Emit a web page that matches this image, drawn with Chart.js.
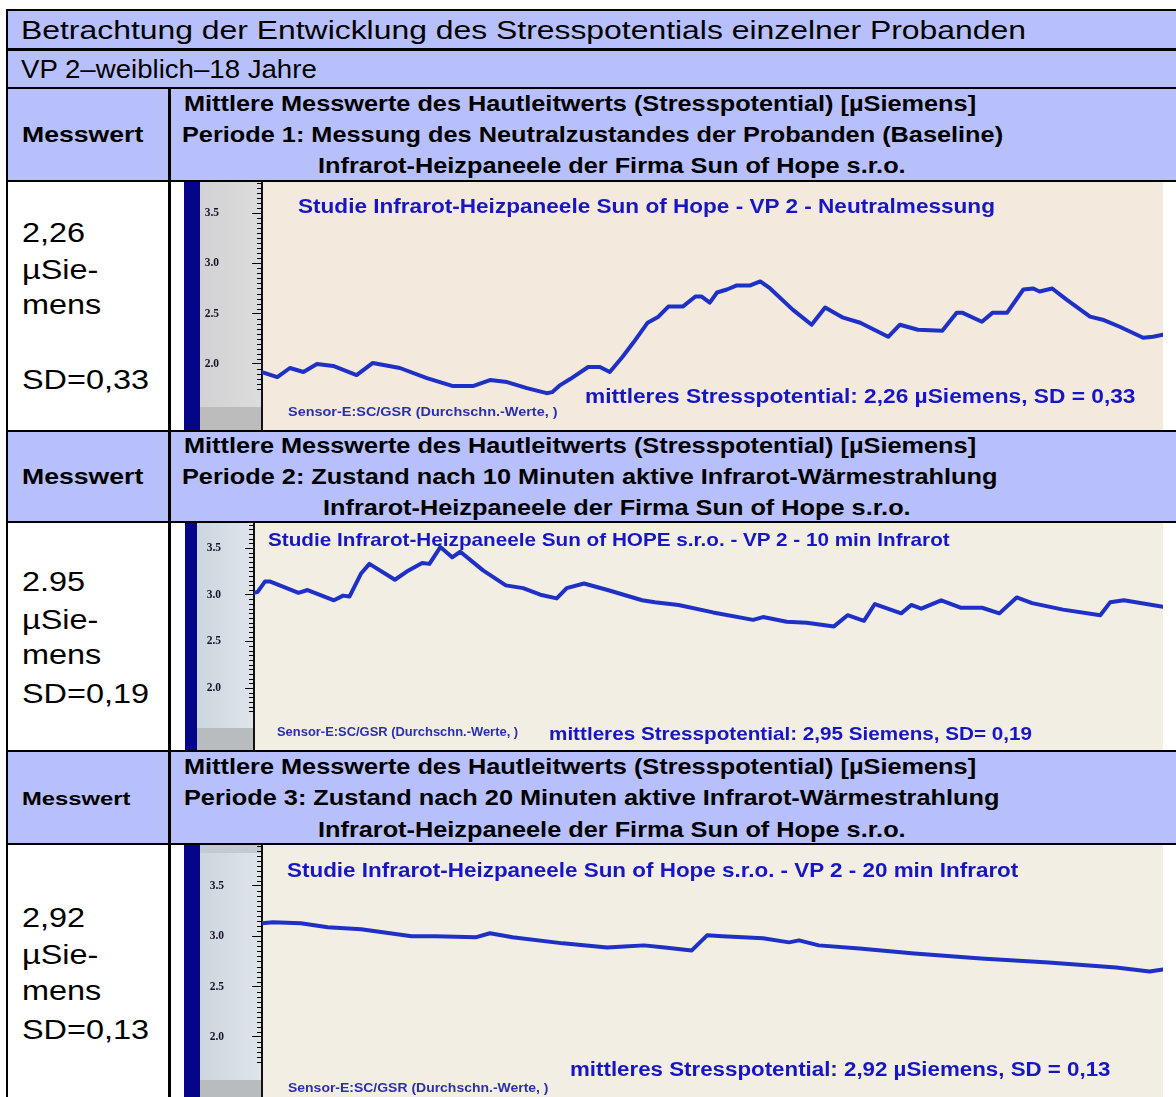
<!DOCTYPE html>
<html><head><meta charset="utf-8">
<script src="https://cdn.jsdelivr.net/npm/chart.js@4.4.1/dist/chart.umd.min.js"></script>
<style>
html,body{margin:0;padding:0;background:#fff;}
body{width:1176px;height:1097px;position:relative;overflow:hidden;font-family:"Liberation Sans",Arial,sans-serif;}
.bg{position:absolute;background:#b8c0fb;}
.ln{position:absolute;background:#000;}
.t{position:absolute;white-space:nowrap;line-height:1;transform-origin:0 50%;transform:translateY(-50%);color:#000;}
.b{font-weight:bold;}
.ct{color:#1616c6;font-weight:bold;}
.cs{color:#2a2fb0;font-weight:bold;}
canvas{position:absolute;display:block;}
</style></head><body>

<!-- header backgrounds -->
<div class="bg" style="left:8px;top:11px;width:1168px;height:37px"></div>
<div class="bg" style="left:8px;top:51px;width:1168px;height:36px"></div>
<div class="bg" style="left:8px;top:89px;width:1168px;height:91px"></div>
<div class="bg" style="left:8px;top:432px;width:1168px;height:89px"></div>
<div class="bg" style="left:8px;top:752px;width:1168px;height:91px"></div>

<!-- charts -->
<canvas id="c1" width="979" height="248" style="left:184px;top:182px"></canvas>
<canvas id="c2" width="978" height="227" style="left:185px;top:523px"></canvas>
<canvas id="c3" width="979" height="252" style="left:184px;top:845px"></canvas>

<!-- grid lines of the table -->
<div class="ln" style="left:6px;top:9px;width:1170px;height:2px"></div>
<div class="ln" style="left:6px;top:48px;width:1170px;height:3px"></div>
<div class="ln" style="left:6px;top:87px;width:1170px;height:2px"></div>
<div class="ln" style="left:6px;top:180px;width:1170px;height:2px"></div>
<div class="ln" style="left:6px;top:430px;width:1170px;height:2px"></div>
<div class="ln" style="left:6px;top:521px;width:1170px;height:2px"></div>
<div class="ln" style="left:6px;top:750px;width:1170px;height:2px"></div>
<div class="ln" style="left:6px;top:843px;width:1170px;height:2px"></div>
<div class="ln" style="left:6px;top:9px;width:2px;height:1088px"></div>
<div class="ln" style="left:168px;top:87px;width:3px;height:1010px"></div>

<!-- table texts -->
<div class="t" style="left:21px;top:30px;font-size:25px" data-w="1005">Betrachtung der Entwicklung des Stresspotentials einzelner Probanden</div>
<div class="t" style="left:21px;top:69px;font-size:25px" data-w="296">VP 2–weiblich–18 Jahre</div>

<div class="t b" style="left:184px;top:104px;font-size:22px" data-s="1.15">Mittlere Messwerte des Hautleitwerts (Stresspotential) [µSiemens]</div>
<div class="t b" style="left:22px;top:135px;font-size:22px" data-w="121">Messwert</div>
<div class="t b" style="left:182px;top:135px;font-size:22px" data-s="1.15">Periode 1: Messung des Neutralzustandes der Probanden (Baseline)</div>
<div class="t b" style="left:318px;top:166px;font-size:22px" data-s="1.15">Infrarot-Heizpaneele der Firma Sun of Hope s.r.o.</div>

<div class="t b" style="left:184px;top:446px;font-size:22px" data-s="1.15">Mittlere Messwerte des Hautleitwerts (Stresspotential) [µSiemens]</div>
<div class="t b" style="left:22px;top:477px;font-size:22px" data-w="121">Messwert</div>
<div class="t b" style="left:182px;top:477px;font-size:22px" data-s="1.15">Periode 2: Zustand nach 10 Minuten aktive Infrarot-Wärmestrahlung</div>
<div class="t b" style="left:323px;top:508px;font-size:22px" data-s="1.15">Infrarot-Heizpaneele der Firma Sun of Hope s.r.o.</div>

<div class="t b" style="left:184px;top:767px;font-size:22px" data-s="1.15">Mittlere Messwerte des Hautleitwerts (Stresspotential) [µSiemens]</div>
<div class="t b" style="left:22px;top:798px;font-size:19px" data-w="109">Messwert</div>
<div class="t b" style="left:184px;top:798px;font-size:22px" data-s="1.15">Periode 3: Zustand nach 20 Minuten aktive Infrarot-Wärmestrahlung</div>
<div class="t b" style="left:318px;top:830px;font-size:22px" data-s="1.15">Infrarot-Heizpaneele der Firma Sun of Hope s.r.o.</div>

<div class="t" style="left:22px;top:233px;font-size:27px" data-s="1.2">2,26</div>
<div class="t" style="left:22px;top:270px;font-size:27px" data-s="1.2">µSie-</div>
<div class="t" style="left:22px;top:305px;font-size:27px" data-s="1.2">mens</div>
<div class="t" style="left:22px;top:380px;font-size:27px" data-s="1.2">SD=0,33</div>

<div class="t" style="left:22px;top:582px;font-size:27px" data-s="1.2">2.95</div>
<div class="t" style="left:22px;top:620px;font-size:27px" data-s="1.2">µSie-</div>
<div class="t" style="left:22px;top:655px;font-size:27px" data-s="1.2">mens</div>
<div class="t" style="left:22px;top:694px;font-size:27px" data-s="1.2">SD=0,19</div>

<div class="t" style="left:22px;top:918px;font-size:27px" data-s="1.2">2,92</div>
<div class="t" style="left:22px;top:955px;font-size:27px" data-s="1.2">µSie-</div>
<div class="t" style="left:22px;top:991px;font-size:27px" data-s="1.2">mens</div>
<div class="t" style="left:22px;top:1030px;font-size:27px" data-s="1.2">SD=0,13</div>

<!-- chart texts -->
<div class="t ct" style="left:298px;top:206px;font-size:20.5px" data-w="697">Studie Infrarot-Heizpaneele Sun of Hope - VP 2 - Neutralmessung</div>
<div class="t cs" style="left:288px;top:411px;font-size:13px" data-w="269">Sensor-E:SC/GSR (Durchschn.-Werte, )</div>
<div class="t ct" style="left:585px;top:397px;font-size:19.5px" data-w="550">mittleres Stresspotential: 2,26 µSiemens, SD = 0,33</div>

<div class="t ct" style="left:268px;top:539px;font-size:19px" data-w="682">Studie Infrarot-Heizpaneele Sun of HOPE s.r.o. - VP 2 - 10 min Infrarot</div>
<div class="t cs" style="left:277px;top:732px;font-size:12.5px" data-w="241">Sensor-E:SC/GSR (Durchschn.-Werte, )</div>
<div class="t ct" style="left:549px;top:733px;font-size:19px" data-w="483">mittleres Stresspotential: 2,95 Siemens, SD= 0,19</div>

<div class="t ct" style="left:287px;top:870px;font-size:20.5px" data-w="731">Studie Infrarot-Heizpaneele Sun of Hope s.r.o. - VP 2 - 20 min Infrarot</div>
<div class="t cs" style="left:288px;top:1087px;font-size:13px" data-w="260">Sensor-E:SC/GSR (Durchschn.-Werte, )</div>
<div class="t ct" style="left:570px;top:1070px;font-size:19.5px" data-w="540">mittleres Stresspotential: 2,92 µSiemens, SD = 0,13</div>

<script>
// ---- data (time in % of the measuring period, values in µSiemens) ----
const yTickValues = [2.0, 2.5, 3.0, 3.5];

const p1Time  = [0,1.7,3.1,4.6,6.1,7.9,10.5,12.3,15.3,18.3,21.2,23.4,25.3,27.2,29.4,31.6,32.2,33.1,34.2,36.2,37.5,38.6,40.0,41.2,42.8,44.0,45.1,46.7,48.1,48.8,49.7,50.5,51.6,52.7,54.2,55.3,56.4,58.9,61.0,62.5,64.5,66.4,69.5,70.8,72.8,75.5,77.1,77.7,79.9,81.1,82.7,84.5,85.6,86.3,87.7,89.3,91.9,93.3,95.2,97.8,98.9,100];
const p1Value = [1.92,1.87,1.96,1.92,2.00,1.98,1.89,2.01,1.96,1.86,1.78,1.78,1.84,1.82,1.76,1.71,1.72,1.79,1.85,1.97,1.97,1.92,2.07,2.21,2.41,2.47,2.57,2.57,2.67,2.67,2.61,2.71,2.74,2.78,2.78,2.82,2.75,2.54,2.39,2.56,2.46,2.41,2.27,2.39,2.34,2.33,2.51,2.51,2.42,2.51,2.51,2.74,2.75,2.72,2.75,2.64,2.47,2.44,2.37,2.26,2.27,2.29];

const p2Time  = [0,0.4,1.2,1.8,4.9,5.9,8.8,9.8,10.5,11.8,12.7,15.5,17.0,18.5,19.3,20.5,21.8,22.7,25.2,27.7,29.6,31.5,33.3,34.4,36.3,38.9,42.7,44.1,46.7,50.5,54.9,56.0,58.6,60.8,63.8,65.3,67.1,68.3,71.2,72.3,73.4,75.6,77.8,80.1,82.0,83.9,85.6,89.0,93.1,94.2,95.7,100];
const p2Value = [3.02,3.03,3.14,3.14,3.02,3.05,2.94,2.99,2.98,3.23,3.33,3.16,3.26,3.34,3.33,3.51,3.40,3.46,3.26,3.10,3.07,3.00,2.96,3.07,3.12,3.05,2.94,2.92,2.89,2.81,2.73,2.76,2.71,2.70,2.66,2.78,2.72,2.90,2.80,2.89,2.85,2.94,2.86,2.86,2.80,2.97,2.91,2.84,2.78,2.92,2.94,2.87];

const p3Time  = [0,1.2,4.3,7.3,11.0,16.6,19.2,23.7,25.3,27.8,33.4,38.3,40.2,42.4,44.7,47.7,49.4,51.1,55.6,58.5,59.6,61.8,66.3,72.4,79.8,87.3,94.8,98.5,100];
const p3Value = [3.13,3.14,3.13,3.09,3.07,3.00,3.00,2.99,3.03,2.99,2.93,2.89,2.90,2.91,2.89,2.86,3.01,3.00,2.98,2.94,2.96,2.91,2.88,2.83,2.78,2.74,2.69,2.65,2.67];

// ---- drawing ----
const lineColor = '#1e30c6';

const panelPlugin = {
  id: 'panel',
  beforeDraw(chart, args, o) {
    const ctx = chart.ctx, a = chart.chartArea, W = chart.width, H = chart.height;
    ctx.save();
    ctx.fillStyle = o.navy; ctx.fillRect(0, 0, o.navyW, H);
    const g = ctx.createLinearGradient(o.navyW, 0, a.left, 0);
    g.addColorStop(0, o.strip0); g.addColorStop(1, o.strip1);
    ctx.fillStyle = g; ctx.fillRect(o.navyW, 0, a.left - o.navyW, H);
    if (o.topH) { ctx.fillStyle = o.topBand; ctx.fillRect(o.navyW, 0, a.left - o.navyW, o.topH); }
    ctx.fillStyle = o.band; ctx.fillRect(o.navyW, H - o.bandH, a.left - o.navyW, o.bandH);
    ctx.fillStyle = o.plotBg; ctx.fillRect(a.left, 0, W - a.left, H);
    ctx.restore();
  },
  afterDraw(chart, args, o) {
    const y = chart.scales.y, ctx = chart.ctx, L = chart.chartArea.left;
    ctx.save(); ctx.strokeStyle = '#000'; ctx.lineWidth = 1;
    const step = o.minorStep;
    for (let i = Math.ceil(o.minorFrom / step); i * step <= y.max; i++) {
      const v = i * step;
      if (Math.abs(v / 0.5 - Math.round(v / 0.5)) < 1e-6) continue;
      const py = Math.round(y.getPixelForValue(v)) + 0.5;
      ctx.beginPath(); ctx.moveTo(L - o.minorLen, py); ctx.lineTo(L, py); ctx.stroke();
    }
    ctx.restore();
  }
};

function makeChart(id, time, values, c) {
  const pts = time.map((t, i) => ({x: t, y: values[i]}));
  return new Chart(document.getElementById(id), {
    type: 'line',
    data: { datasets: [{ data: pts, borderColor: lineColor, borderWidth: 4, pointRadius: 0,
      tension: 0, fill: false, borderJoinStyle: 'round', borderCapStyle: 'round' }] },
    options: {
      responsive: false, animation: false, events: [],
      layout: { padding: 0 },
      plugins: { legend: {display: false}, tooltip: {enabled: false}, title: {display: false}, panel: c.panel },
      scales: {
        x: { type: 'linear', display: false, min: 0, max: 100 },
        y: {
          min: c.min, max: c.max,
          afterBuildTicks: ax => { ax.ticks = yTickValues.map(v => ({value: v})); },
          afterFit: ax => { ax.width = c.axisW; ax.paddingTop = 0; ax.paddingBottom = 0; },
          ticks: { padding: c.pad, color: '#15152a',
            font: {family: '"Liberation Serif", "Times New Roman", serif', weight: 'bold', size: 11.5},
            callback: v => Number(v).toFixed(1) },
          grid: { drawOnChartArea: false, drawTicks: true, tickLength: c.tl, tickColor: '#000', tickWidth: 1 },
          border: { display: true, color: '#111', width: 2 }
        }
      }
    },
    plugins: [panelPlugin]
  });
}

makeChart('c1', p1Time, p1Value, { min: 1.344, max: 3.808, axisW: 78, pad: 33, tl: 10,
  panel: { navy: '#05058a', navyW: 16, strip0: '#d2d2d4', strip1: '#dcdcdc', band: '#bcbcbc', bandH: 23,
           plotBg: '#f3e9dd', minorFrom: 1.75, minorStep: 0.05, minorLen: 5 } });
makeChart('c2', p2Time, p2Value, { min: 1.336, max: 3.768, axisW: 69, pad: 24, tl: 9,
  panel: { navy: '#05058a', navyW: 12, strip0: '#ccd6de', strip1: '#dfe5ea', band: '#b9bcbf', bandH: 22,
           plotBg: '#f2eee4', minorFrom: 1.75, minorStep: 0.05, minorLen: 5 } });
makeChart('c3', p3Time, p3Value, { min: 1.404, max: 3.907, axisW: 78, pad: 28, tl: 10,
  panel: { navy: '#05058a', navyW: 16, strip0: '#ccd6de', strip1: '#dfe5ea', band: '#b9bcbf', bandH: 17,
           topBand: '#c3cbd2', topH: 8,
           plotBg: '#f2eee4', minorFrom: 1.75, minorStep: 0.05, minorLen: 5 } });

// stretch texts horizontally like the reference
function fitTexts() {
  document.querySelectorAll('.t').forEach(el => {
    const nat = el.offsetWidth;
    let s = 1;
    if (el.dataset.w) s = (+el.dataset.w) / nat;
    else if (el.dataset.s) s = +el.dataset.s;
    el.style.transform = 'translateY(-50%) scaleX(' + s.toFixed(4) + ')';
  });
}
if (document.fonts && document.fonts.ready) document.fonts.ready.then(fitTexts); else fitTexts();
fitTexts();
</script>
</body></html>
